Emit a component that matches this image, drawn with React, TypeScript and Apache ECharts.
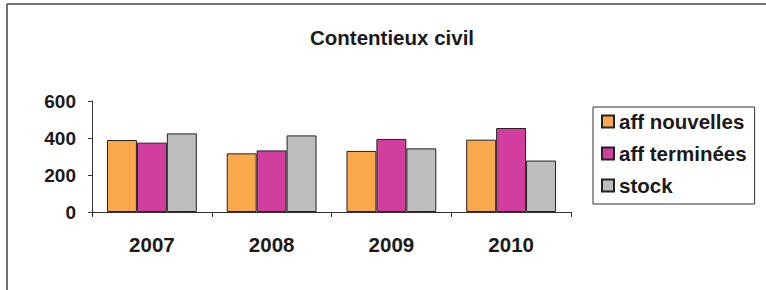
import React, { useEffect, useRef } from "react";
import * as echarts from "echarts";

const categories = ["2007", "2008", "2009", "2010"];
const seriesNames = ["aff nouvelles", "aff terminées", "stock"];
const affNouvelles = [389, 317, 330, 391];
const affTerminees = [375, 333, 395, 454];
const stock = [425, 414, 344, 278];
const colors = ["#F9A94B", "#D23E9E", "#BEBEBE"];

const FONT = "'Liberation Sans', Arial, sans-serif";

export default function App() {
  const ref = useRef<HTMLDivElement>(null);
  useEffect(() => {
    if (!ref.current) return;
    const chart = echarts.init(ref.current, null, { renderer: "svg" });
    const values = [affNouvelles, affTerminees, stock];
    chart.setOption({
      animation: false,
      backgroundColor: "#ffffff",
      textStyle: { fontFamily: FONT },
      title: {
        text: "Contentieux civil",
        left: 305,
        top: 22,
        textStyle: { fontFamily: FONT, fontSize: 20.5, fontWeight: "bold", color: "#1a1a1a" },
      },
      legend: {
        orient: "vertical",
        left: 593,
        top: 107,
        padding: [4, 8, 8, 8],
        itemGap: 11,
        itemWidth: 12,
        itemHeight: 12,
        icon: "rect",
        borderColor: "#333",
        borderWidth: 1,
        data: seriesNames,
        textStyle: { fontFamily: FONT, fontSize: 20.5, fontWeight: "bold", color: "#1a1a1a" },
      },
      grid: { left: 92, right: 195, top: 101, bottom: 78, containLabel: false },
      xAxis: {
        type: "category",
        data: categories,
        axisLine: { lineStyle: { color: "#333", width: 1 } },
        axisTick: { show: true, length: 5, lineStyle: { color: "#333" } },
        axisLabel: { margin: 22, fontFamily: FONT, fontSize: 20.5, fontWeight: "bold", color: "#1a1a1a" },
      },
      yAxis: {
        type: "value",
        min: 0,
        max: 600,
        interval: 200,
        axisLine: { show: true, lineStyle: { color: "#333", width: 1 } },
        axisTick: { show: true, length: 4, lineStyle: { color: "#333" } },
        splitLine: { show: false },
        axisLabel: { margin: 16, fontFamily: FONT, fontSize: 19, fontWeight: "bold", color: "#1a1a1a" },
      },
      series: seriesNames.map((name, i) => ({
        name,
        type: "bar",
        data: values[i],
        barGap: "0%",
        barCategoryGap: "25%",
        itemStyle: { color: colors[i], borderColor: "#222", borderWidth: 1 },
      })),
      graphic: [
        { type: "line", shape: { x1: 7, y1: 4, x2: 766, y2: 4 }, style: { stroke: "#444", lineWidth: 1.5 } },
        { type: "line", shape: { x1: 7, y1: 4, x2: 7, y2: 290 }, style: { stroke: "#444", lineWidth: 1.5 } },
      ],
    });
    return () => chart.dispose();
  }, []);
  return (
    <div
      ref={ref}
      style={{ position: "fixed", left: 0, top: 0, width: 766, height: 290, background: "#fff" }}
    />
  );
}
